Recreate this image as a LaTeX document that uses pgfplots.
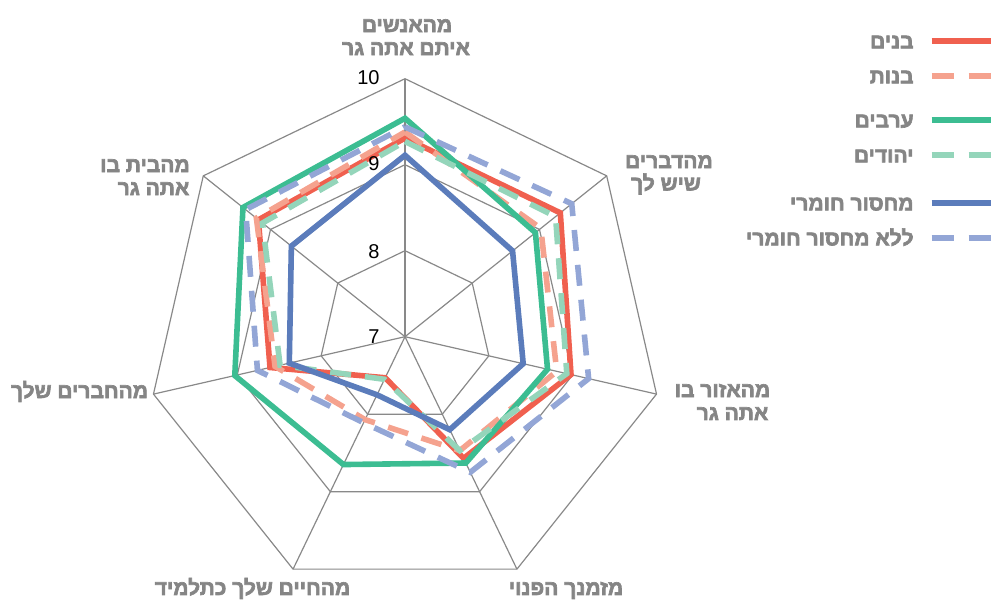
\documentclass[border=0pt]{standalone}
\usepackage{fontspec}
\setmainfont{Liberation Sans}
\newfontfamily\hebfont[Script=Hebrew, FakeBold=3]{Liberation Sans}
\usepackage{pgfplots}
\pgfplotsset{compat=1.18}
\usepgfplotslibrary{polar}
\TeXXeTstate=1

\definecolor{cBoys}{HTML}{F0604F}
\definecolor{cGirls}{HTML}{F5A28E}
\definecolor{cArab}{HTML}{3CBD92}
\definecolor{cJew}{HTML}{94D5BA}
\definecolor{cPoor}{HTML}{5B7CBB}
\definecolor{cRich}{HTML}{93A6D6}
\definecolor{gridc}{HTML}{898989}
\definecolor{labc}{HTML}{858585}

% axes clockwise from the top: 90, 38.571, 347.143, 295.714, 244.286, 192.857, 141.429
\pgfplotsset{
  solidline/.style={line width=2.8bp},
  dashline/.style={line width=2.8bp, dash pattern=on 10.5bp off 7bp},
  legendbox/.style={
    hide axis, scale only axis, width=2bp, height=2bp,
    xmin=0, xmax=1, ymin=0, ymax=1, anchor=center,
    legend style={at={(0.5,0.5)}, anchor=north east, draw=none, fill=none,
      inner sep=0pt, row sep=10.5bp, column sep=7.5bp,
      font=\hebfont\bfseries\fontsize{10.5bp}{12bp}\selectfont,
      text=labc,
      nodes={inner sep=0pt, text height=7bp, text depth=0pt}},
    legend cell align=right,
    legend plot pos=right,
    legend image code/.code={\draw[##1] (0bp,0bp) -- (29.5bp,0bp);},
  },
}

\begin{document}
\begin{tikzpicture}
\useasboundingbox (-202.5bp,-132.15bp) rectangle (294.5bp,168.35bp);

\begin{polaraxis}[
  hide axis, scale only axis, width=258bp, height=258bp,
  xmin=0, xmax=360, ymin=0, ymax=3,
  y filter/.expression={y-7},
  clip=false, at={(0,0)}, anchor=center,
]
% grid rings
\addplot[gridc, line width=0.6bp] coordinates {(90,8) (38.571,8) (347.143,8) (295.714,8) (244.286,8) (192.857,8) (141.429,8)} -- cycle;
\addplot[gridc, line width=0.6bp] coordinates {(90,9) (38.571,9) (347.143,9) (295.714,9) (244.286,9) (192.857,9) (141.429,9)} -- cycle;
\addplot[gridc, line width=0.6bp] coordinates {(90,10) (38.571,10) (347.143,10) (295.714,10) (244.286,10) (192.857,10) (141.429,10)} -- cycle;
% spokes
\addplot[gridc, line width=0.6bp] coordinates {(90,7) (90,10)};
\addplot[gridc, line width=0.6bp] coordinates {(38.571,7) (38.571,10)};
\addplot[gridc, line width=0.6bp] coordinates {(347.143,7) (347.143,10)};
\addplot[gridc, line width=0.6bp] coordinates {(295.714,7) (295.714,10)};
\addplot[gridc, line width=0.6bp] coordinates {(244.286,7) (244.286,10)};
\addplot[gridc, line width=0.6bp] coordinates {(192.857,7) (192.857,10)};
\addplot[gridc, line width=0.6bp] coordinates {(141.429,7) (141.429,10)};

% boys
\addplot[cBoys, solidline] coordinates {(90,9.31) (38.571,9.31) (347.143,8.98) (295.714,8.57) (244.286,7.53) (192.857,8.61) (141.429,9.18)} -- cycle;
% girls
\addplot[cGirls, dashline] coordinates {(90,9.38) (38.571,9.02) (347.143,8.81) (295.714,8.47) (244.286,8.07) (192.857,8.55) (141.429,9.21)} -- cycle;
% arabs
\addplot[cArab, solidline] coordinates {(90,9.54) (38.571,8.94) (347.143,8.70) (295.714,8.63) (244.286,8.65) (192.857,9.03) (141.429,9.41)} -- cycle;
% jews
\addplot[cJew, dashline] coordinates {(90,9.27) (38.571,9.24) (347.143,8.93) (295.714,8.47) (244.286,7.55) (192.857,8.49) (141.429,9.12)} -- cycle;
% material deprivation
\addplot[cPoor, solidline] coordinates {(90,9.11) (38.571,8.60) (347.143,8.41) (295.714,8.20) (244.286,7.75) (192.857,8.38) (141.429,8.69)} -- cycle;
% no material deprivation
\addplot[cRich, dashline] coordinates {(90,9.44) (38.571,9.48) (347.143,9.19) (295.714,8.75) (244.286,8.11) (192.857,8.76) (141.429,9.37)} -- cycle;
\end{polaraxis}

% legend, three pairs
\begin{axis}[legendbox, at={(294.5bp,151.35bp)}]
\addlegendimage{cBoys, line width=3bp}
\addlegendentry{\beginR בנים\endR}
\addlegendimage{cGirls, line width=3bp, dash pattern=on 11bp off 7.5bp}
\addlegendentry{\beginR בנות\endR}
\end{axis}
\begin{axis}[legendbox, at={(294.5bp,111.85bp)}]
\addlegendimage{cArab, line width=3bp}
\addlegendentry{\beginR ערבים\endR}
\addlegendimage{cJew, line width=3bp, dash pattern=on 11bp off 7.5bp}
\addlegendentry{\beginR יהודים\endR}
\end{axis}
\begin{axis}[legendbox, at={(294.5bp,70.35bp)}]
\addlegendimage{cPoor, line width=3bp}
\addlegendentry{\beginR מחסור חומרי\endR}
\addlegendimage{cRich, line width=3bp, dash pattern=on 11bp off 7.5bp}
\addlegendentry{\beginR ללא מחסור חומרי\endR}
\end{axis}

% labels, placed in pixel units of the reference
\begin{scope}[x=0.5bp, y=-0.5bp, shift={(-405,-336.7)},
  lab/.style={anchor=base, inner sep=0pt, text=labc, font=\hebfont\bfseries\fontsize{10.5bp}{12bp}\selectfont},
  tick/.style={anchor=east, inner sep=0pt, font=\fontsize{10bp}{12bp}\selectfont}]
\node[lab] at (407,32) {\beginR מהאנשים\endR};
\node[lab] at (406,55) {\beginR איתם אתה גר\endR};
\node[lab] at (669,168) {\beginR מהדברים\endR};
\node[lab] at (666,190.5) {\beginR שיש לך\endR};
\node[lab] at (722.5,397) {\beginR מהאזור בו\endR};
\node[lab] at (732.5,420) {\beginR אתה גר\endR};
\node[lab] at (566,595) {\beginR מזמנך הפנוי\endR};
\node[lab] at (252.5,595) {\beginR מהחיים שלך כתלמיד\endR};
\node[lab] at (79.5,398) {\beginR מהחברים שלך\endR};
\node[lab] at (145,172) {\beginR מהבית בו\endR};
\node[lab] at (153.5,195) {\beginR אתה גר\endR};
\node[tick] at (380,78) {10};
\node[tick] at (380,163.5) {9};
\node[tick] at (380,251.5) {8};
\node[tick] at (380,337) {7};
\end{scope}
\end{tikzpicture}
\end{document}
